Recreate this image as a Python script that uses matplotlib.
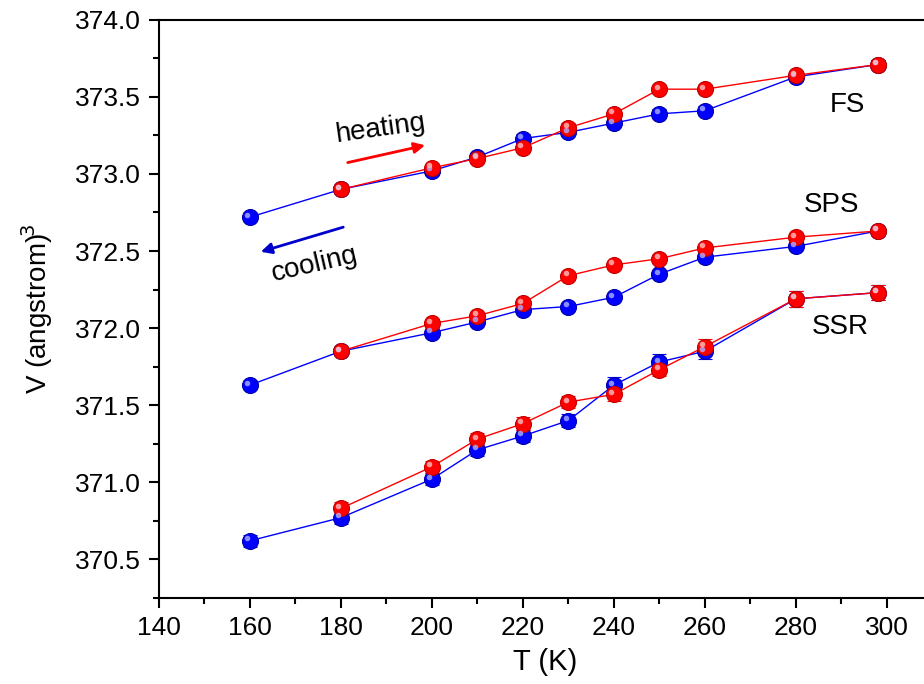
import numpy as np
import matplotlib
matplotlib.use("Agg")
import matplotlib.pyplot as plt
from matplotlib.transforms import ScaledTranslation

plt.rcParams['font.family'] = ['Liberation Sans', 'DejaVu Sans']

# temperatures (K)
T_cool = [160, 180, 200, 210, 220, 230, 240, 250, 260, 280, 298]
T_heat = [180, 200, 210, 220, 230, 240, 250, 260, 280, 298]

# FS
fs_cool = [372.72, 372.90, 373.02, 373.11, 373.23, 373.27, 373.33, 373.39, 373.41, 373.63, 373.71]
fs_heat = [372.90, 373.04, 373.10, 373.17, 373.30, 373.39, 373.55, 373.55, 373.64, 373.71]
fs_cool_err = [0.02, 0.02, 0.02, 0.02, 0.03, 0.02, 0.02, 0.03, 0.03, 0.03, 0.03]
fs_heat_err = [0.02, 0.02, 0.02, 0.03, 0.03, 0.02, 0.02, 0.02, 0.02, 0.03]

# SPS
sps_cool = [371.63, 371.85, 371.97, 372.04, 372.12, 372.14, 372.20, 372.35, 372.46, 372.53, 372.63]
sps_heat = [371.85, 372.03, 372.08, 372.16, 372.34, 372.41, 372.45, 372.52, 372.59, 372.63]
sps_cool_err = [0.01] * 11
sps_heat_err = [0.01] * 10

# SSR
ssr_cool = [370.62, 370.77, 371.02, 371.21, 371.30, 371.40, 371.63, 371.78, 371.85, 372.19, 372.23]
ssr_heat = [370.83, 371.10, 371.28, 371.38, 371.52, 371.57, 371.73, 371.88, 372.19, 372.23]
ssr_cool_err = [0.04, 0.04, 0.04, 0.04, 0.04, 0.04, 0.05, 0.05, 0.05, 0.05, 0.05]
ssr_heat_err = [0.04, 0.04, 0.04, 0.04, 0.04, 0.04, 0.04, 0.05, 0.05, 0.05]

fig = plt.figure(figsize=(9.24, 6.84), dpi=100)
ax = fig.add_axes([0.172, 0.126, 0.837, 0.845])

hl = ScaledTranslation(-2.5 / 100, 2.5 / 100, fig.dpi_scale_trans)


def series(x, y, err, color, dark, light):
    ax.errorbar(x, y, yerr=err, color=color, lw=1, ecolor=color,
                elinewidth=1.3, capsize=5, capthick=1.3, zorder=2,
                marker='o', ms=11.5, mfc=color, mec=dark, mew=0.8)
    ax.plot(x, y, ls='none', marker='o', ms=4, mfc=light, mec='none',
            alpha=0.8, transform=ax.transData + hl, zorder=3)


series(T_cool, fs_cool, fs_cool_err, '#0000ff', '#0000aa', '#aab0ff')
series(T_heat, fs_heat, fs_heat_err, '#ff0000', '#c00000', '#ffc0c0')
series(T_cool, sps_cool, sps_cool_err, '#0000ff', '#0000aa', '#aab0ff')
series(T_heat, sps_heat, sps_heat_err, '#ff0000', '#c00000', '#ffc0c0')
series(T_cool, ssr_cool, ssr_cool_err, '#0000ff', '#0000aa', '#aab0ff')
series(T_heat, ssr_heat, ssr_heat_err, '#ff0000', '#c00000', '#ffc0c0')

ax.set_xlim(140, 310)
ax.set_ylim(370.25, 374.0)
ax.set_xticks(np.arange(140, 301, 20))
ax.set_xticks(np.arange(150, 311, 10), minor=True)
ax.set_yticks(np.arange(370.5, 374.01, 0.5))
ax.set_yticks(np.arange(370.25, 374.0, 0.25), minor=True)
ax.yaxis.set_major_formatter(matplotlib.ticker.FormatStrFormatter('%.1f'))
ax.tick_params(which='major', direction='out', length=7, width=1.5, labelsize=19, pad=6)
ax.tick_params(which='minor', direction='out', length=4, width=1.5)
for s in ['left', 'bottom', 'top']:
    ax.spines[s].set_linewidth(1.5)
ax.spines['right'].set_visible(False)

ax.set_xlabel('T (K)', fontsize=21, labelpad=6)
ax.set_ylabel('V (angstrom)$^{\\!3}$', fontsize=20, labelpad=14)

ax.annotate('', xy=(199.1, 373.19), xytext=(180.9, 373.07),
            arrowprops=dict(arrowstyle='-|>', color='#ff0000', lw=2, mutation_scale=16))
ax.annotate('', xy=(161.8, 372.49), xytext=(181.1, 372.66),
            arrowprops=dict(arrowstyle='-|>', color='#0000cc', lw=2, mutation_scale=16))
ax.text(188.6, 373.29, 'heating', fontsize=20, rotation=8, ha='center', va='center')
ax.text(174.3, 372.41, 'cooling', fontsize=20, rotation=13, ha='center', va='center')
ax.text(291.4, 373.45, 'FS', fontsize=20, ha='center', va='center')
ax.text(287.9, 372.80, 'SPS', fontsize=20, ha='center', va='center')
ax.text(289.7, 372.01, 'SSR', fontsize=20, ha='center', va='center')

fig.savefig('out.png', dpi=100)
